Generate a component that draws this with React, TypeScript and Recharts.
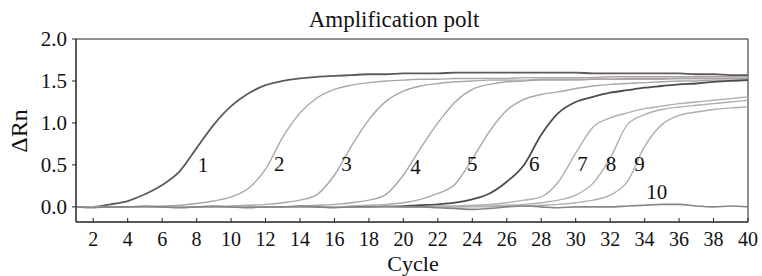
import { LineChart, Line, XAxis, YAxis, ReferenceArea, ReferenceDot } from "recharts";

const cycles = [
  1, 2, 3, 4, 5, 6, 7, 8, 9, 10, 11, 12, 13, 14, 15, 16, 17, 18, 19, 20,
  21, 22, 23, 24, 25, 26, 27, 28, 29, 30, 31, 32, 33, 34, 35, 36, 37, 38, 39, 40,
];

// ΔRn per cycle
const curve1 = [
  0, 0, 0.03, 0.07, 0.15, 0.26, 0.42, 0.7, 0.98, 1.2, 1.35, 1.45, 1.5, 1.53, 1.55, 1.56, 1.57, 1.58, 1.58, 1.59,
  1.59, 1.59, 1.6, 1.6, 1.6, 1.6, 1.6, 1.6, 1.6, 1.6, 1.59, 1.59, 1.59, 1.59, 1.59, 1.59, 1.58, 1.58, 1.57, 1.57,
];
const curve2 = [
  0, 0, 0, 0, 0, 0.01, 0.02, 0.04, 0.07, 0.12, 0.22, 0.45, 0.83, 1.12, 1.3, 1.4, 1.45, 1.48, 1.5, 1.51,
  1.52, 1.52, 1.53, 1.53, 1.53, 1.53, 1.54, 1.54, 1.54, 1.54, 1.54, 1.55, 1.55, 1.55, 1.55, 1.55, 1.55, 1.55, 1.55, 1.55,
];
const curve3 = [
  0, 0, 0, 0, 0, 0, 0, 0, 0, 0.01, 0.02, 0.03, 0.05, 0.08, 0.15, 0.38, 0.73, 1.04, 1.26, 1.38,
  1.44, 1.47, 1.49, 1.5, 1.51, 1.51, 1.51, 1.52, 1.52, 1.52, 1.52, 1.52, 1.53, 1.53, 1.53, 1.53, 1.53, 1.53, 1.53, 1.53,
];
const curve4 = [
  0, 0, 0, 0, 0, 0, 0, 0, 0, 0, 0, 0, 0, 0.01, 0.02, 0.03, 0.05, 0.08, 0.15, 0.38,
  0.7, 1.0, 1.25, 1.4, 1.46, 1.49, 1.5, 1.51, 1.51, 1.51, 1.52, 1.52, 1.52, 1.52, 1.52, 1.53, 1.53, 1.53, 1.53, 1.53,
];
const curve5 = [
  0, 0, 0, 0, 0, 0, 0, 0, 0, 0, 0, 0, 0, 0, 0, 0, 0.01, 0.02, 0.03, 0.05,
  0.09, 0.16, 0.27, 0.57, 0.9, 1.15, 1.28, 1.34, 1.37, 1.41, 1.44, 1.46, 1.47, 1.48, 1.49, 1.5, 1.5, 1.51, 1.51, 1.52,
];
const curve6 = [
  0, 0, 0, 0, 0, 0, 0, 0, 0, 0, 0, 0, 0, 0, 0, 0, 0, 0, 0, 0.01,
  0.02, 0.03, 0.05, 0.09, 0.16, 0.3, 0.5, 0.86, 1.12, 1.25, 1.31, 1.36, 1.39, 1.42, 1.44, 1.46, 1.47, 1.49, 1.5, 1.51,
];
const curve7 = [
  0, 0, 0, 0, 0, 0, 0, 0, 0, 0, 0, 0, 0, 0, 0, 0, 0, 0, 0, 0,
  0, 0.01, 0.01, 0.02, 0.03, 0.05, 0.08, 0.12, 0.3, 0.64, 0.95, 1.06, 1.12, 1.17, 1.2, 1.23, 1.25, 1.27, 1.29, 1.31,
];
const curve8 = [
  0, 0, 0, 0, 0, 0, 0, 0, 0, 0, 0, 0, 0, 0, 0, 0, 0, 0, 0, 0,
  0, 0, 0, 0.01, 0.01, 0.02, 0.03, 0.05, 0.08, 0.14, 0.28, 0.58, 0.98, 1.1, 1.16, 1.19, 1.21, 1.23, 1.25, 1.27,
];
const curve9 = [
  0, 0, 0, 0, 0, 0, 0, 0, 0, 0, 0, 0, 0, 0, 0, 0, 0, 0, 0, 0,
  0, 0, 0, 0, 0, 0.01, 0.01, 0.02, 0.03, 0.05, 0.08, 0.14, 0.3, 0.72, 0.98, 1.09, 1.13, 1.16, 1.18, 1.19,
];
const curve10 = [
  0, -0.01, 0, 0, 0.01, 0, -0.01, 0, 0.01, 0, -0.01, 0, 0, 0.01, 0, -0.01, 0, 0, 0.01, 0,
  0, -0.01, -0.02, -0.03, -0.02, 0, 0.01, 0, -0.01, 0, 0, 0, 0.01, 0.02, 0.03, 0.03, 0.01, 0, 0.01, 0,
];

const curveNames = ["1", "2", "3", "4", "5", "6", "7", "8", "9", "10"];
const curves = [curve1, curve2, curve3, curve4, curve5, curve6, curve7, curve8, curve9, curve10];
const curveColors = [
  "#5f5a5a", "#aba6a6", "#aba6a6", "#aba6a6", "#aba6a6",
  "#4e4a4a", "#b3aeae", "#b3aeae", "#b3aeae", "#8a8585",
];
const curveWidths = [1.8, 1.4, 1.4, 1.4, 1.4, 1.8, 1.4, 1.4, 1.4, 1.6];

// where the curve numbers sit
const labelX = [8.37, 12.8, 16.7, 20.7, 24.0, 27.6, 30.4, 32.05, 33.7, 34.7];
const labelY = [0.5, 0.52, 0.52, 0.48, 0.52, 0.52, 0.52, 0.52, 0.52, 0.18];

const xTicks = [2, 4, 6, 8, 10, 12, 14, 16, 18, 20, 22, 24, 26, 28, 30, 32, 34, 36, 38, 40];
const yTicks = [0, 0.5, 1, 1.5, 2];

const data = cycles.map((c, i) => {
  const row: Record<string, number> = { cycle: c };
  curves.forEach((vals, k) => {
    row["c" + (k + 1)] = vals[i];
  });
  return row;
});

const FONT = "'Liberation Serif', 'Times New Roman', serif";

const XTick = (props: any) => {
  const { x, y, payload } = props;
  return (
    <g>
      <line x1={x} x2={x} y1={y - 4} y2={y} stroke="#222" />
      <text x={x} y={y + 24} textAnchor="middle" fontSize={20} fontFamily={FONT} fill="#111">
        {payload.value}
      </text>
    </g>
  );
};

export default function App() {
  return (
    <div style={{ position: "absolute", left: 0, top: 0, width: 762, height: 276, background: "#fff" }}>
      <LineChart width={762} height={276} data={data} margin={{ top: 39, right: 14, bottom: 0, left: 0 }}>
        <XAxis
          dataKey="cycle"
          type="number"
          domain={[1, 40]}
          ticks={xTicks}
          height={54}
          tickSize={0}
          tickMargin={0}
          tickLine={false}
          tick={<XTick />}
          axisLine={{ stroke: "#222" }}
        />
        <YAxis
          type="number"
          domain={[-0.18, 2]}
          ticks={yTicks}
          width={76}
          tickSize={4}
          tickMargin={5}
          tickFormatter={(v: number) => v.toFixed(1)}
          tick={{ fontSize: 21, fontFamily: FONT, fill: "#111" }}
          tickLine={{ stroke: "#222" }}
          axisLine={{ stroke: "#222" }}
          allowDataOverflow
        />
        <ReferenceArea x1={1} x2={40} y1={-0.18} y2={2} fill="none" stroke="#222" strokeWidth={1} />
        {curves.map((_, k) => (
          <Line
            key={k}
            dataKey={"c" + (k + 1)}
            type="monotone"
            stroke={curveColors[k]}
            strokeWidth={curveWidths[k]}
            dot={false}
            isAnimationActive={false}
          />
        ))}
        {curveNames.map((n, k) => (
          <ReferenceDot
            key={"l" + k}
            x={labelX[k]}
            y={labelY[k]}
            r={0}
            fill="none"
            stroke="none"
            label={{ value: n, position: "center", fontSize: 21, fontFamily: FONT, fill: "#111" }}
          />
        ))}
        <text x={394} y={27} textAnchor="middle" fontSize={23} fontFamily={FONT} fill="#111">
          Amplification polt
        </text>
        <text
          x={27}
          y={131}
          transform="rotate(-90 27 131)"
          textAnchor="middle"
          fontSize={24}
          fontFamily={FONT}
          fill="#111"
        >
          ΔRn
        </text>
        <text x={413} y={271} textAnchor="middle" fontSize={22} fontFamily={FONT} fill="#111">
          Cycle
        </text>
      </LineChart>
    </div>
  );
}
